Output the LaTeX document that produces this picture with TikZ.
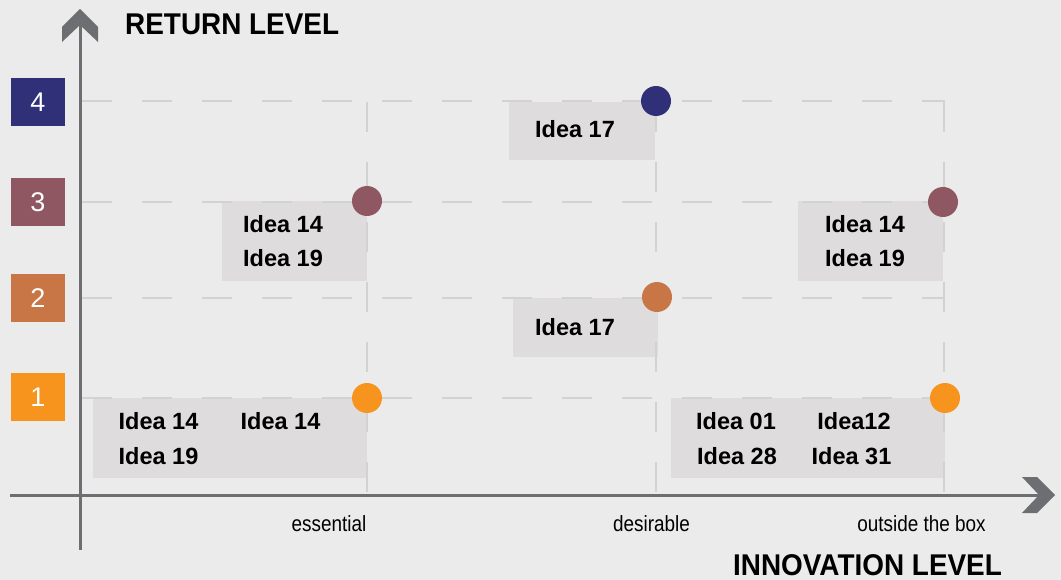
\documentclass[tikz,border=0pt]{standalone}
\usepackage{fontspec}
\setmainfont{Liberation Sans}
\newfontfamily\titlefont[FakeStretch=0.93]{Liberation Sans}
\newfontfamily\labelfont[FakeStretch=0.86]{Liberation Sans}
\definecolor{bg}{HTML}{EBEBEB}
\definecolor{axisgray}{HTML}{6D6E71}
\definecolor{gridgray}{HTML}{D2D2D2}
\definecolor{boxgray}{HTML}{DEDCDD}
\definecolor{lvfour}{HTML}{303079}
\definecolor{lvthree}{HTML}{8E5762}
\definecolor{lvtwo}{HTML}{C87645}
\definecolor{lvone}{HTML}{F7941D}
\tikzset{
  lvbox/.style={rectangle, minimum width=54pt, minimum height=48pt, inner sep=0pt,
    text=white, font=\fontsize{27}{30}\selectfont},
  ideabox/.style={rectangle, fill=boxgray, inner sep=0pt, anchor=north west},
  idea/.style={inner sep=0pt, font=\fontsize{23.5}{28}\selectfont\bfseries},
  dot/.style={circle, minimum size=30pt, inner sep=0pt},
  grid/.style={draw=gridgray, line width=2pt, dash pattern=on 30pt off 30pt},
  axis/.style={draw=axisgray, line width=3pt},
  axlabel/.style={inner sep=0pt, font=\labelfont\fontsize{22}{26}\selectfont},
  title/.style={inner sep=0pt, anchor=west, font=\titlefont\fontsize{30}{34}\selectfont\bfseries}
}
\begin{document}
\begin{tikzpicture}[x=1pt,y=-1pt]
\fill[bg] (0,0) rectangle (1061,580);
\useasboundingbox (0,0) rectangle (1061,580);
% idea boxes
\node[ideabox, minimum width=146pt, minimum height=58pt] (b4) at (509,102) {};
\node[ideabox, minimum width=145pt, minimum height=80pt] (b3l) at (222,201) {};
\node[ideabox, minimum width=145pt, minimum height=80pt] (b3r) at (798,201) {};
\node[ideabox, minimum width=145pt, minimum height=59pt] (b2) at (513,298) {};
\node[ideabox, minimum width=274pt, minimum height=80pt] (b1l) at (93,398) {};
\node[ideabox, minimum width=274pt, minimum height=80pt] (b1r) at (671,398) {};
% grid
\coordinate (h4s) at (82,101); \coordinate (h4e) at (945,101);
\coordinate (h3s) at (82,202); \coordinate (h3e) at (945,202);
\coordinate (h2s) at (82,298); \coordinate (h2e) at (945,298);
\coordinate (h1s) at (82,398); \coordinate (h1e) at (945,398);
\coordinate (vas) at (367,102); \coordinate (vae) at (367,495);
\coordinate (vbs) at (656,102); \coordinate (vbe) at (656,495);
\coordinate (vcs) at (944,102); \coordinate (vce) at (944,495);
\draw[grid] (h4s) -- (h4e);
\draw[grid] (h3s) -- (h3e);
\draw[grid] (h2s) -- (h2e);
\draw[grid] (h1s) -- (h1e);
\draw[grid] (vas) -- (vae);
\draw[grid] (vbs) -- (vbe);
\draw[grid] (vcs) -- (vce);
% axes
\coordinate (ya) at (80,550); \coordinate (yb) at (80,20);
\coordinate (xa) at (10,495); \coordinate (xb) at (1045,495);
\draw[axis] (ya) -- (yb);
\draw[axis] (xa) -- (xb);
\fill[axisgray] (80,9) -- (98,27) -- (98,42) -- (80,25) -- (62,42) -- (62,27) -- cycle;
\fill[axisgray] (1022,477) -- (1037,477) -- (1055,495) -- (1037,513) -- (1022,513) -- (1039,495) -- cycle;
% level squares
\node[lvbox, fill=lvfour] (l4) at (38,102) {4};
\node[lvbox, fill=lvthree] (l3) at (38,202) {3};
\node[lvbox, fill=lvtwo] (l2) at (38,298) {2};
\node[lvbox, fill=lvone] (l1) at (38,397) {1};
% dots
\node[dot, fill=lvfour] (c4) at (656,101) {};
\node[dot, fill=lvthree] (c3l) at (367,201) {};
\node[dot, fill=lvthree] (c3r) at (943,202) {};
\node[dot, fill=lvtwo] (c2) at (657,297) {};
\node[dot, fill=lvone] (c1l) at (367,398) {};
\node[dot, fill=lvone] (c1r) at (945,398) {};
% ideas
\node[idea] (t4) at (575,129) {Idea 17};
\node[idea] (t3la) at (283,224) {Idea 14};
\node[idea] (t3lb) at (283,258) {Idea 19};
\node[idea] (t3ra) at (865,224) {Idea 14};
\node[idea] (t3rb) at (865,258) {Idea 19};
\node[idea] (t2) at (575,327) {Idea 17};
\node[idea] (t1a) at (158.5,421) {Idea 14};
\node[idea] (t1b) at (280.5,421) {Idea 14};
\node[idea] (t1c) at (158.5,456) {Idea 19};
\node[idea] (t1d) at (736,421) {Idea 01};
\node[idea] (t1e) at (854,421) {Idea12};
\node[idea] (t1f) at (737,456) {Idea 28};
\node[idea] (t1g) at (851.5,456) {Idea 31};
% axis labels
\node[axlabel] (e1) at (329,524) {essential};
\node[axlabel] (e2) at (651.5,524) {desirable};
\node[axlabel] (e3) at (921.5,524) {outside the box};
% titles
\node[title] (ty) at (125,24) {RETURN LEVEL};
\node[title] (tx) at (733,565) {INNOVATION LEVEL};
\end{tikzpicture}
\end{document}
